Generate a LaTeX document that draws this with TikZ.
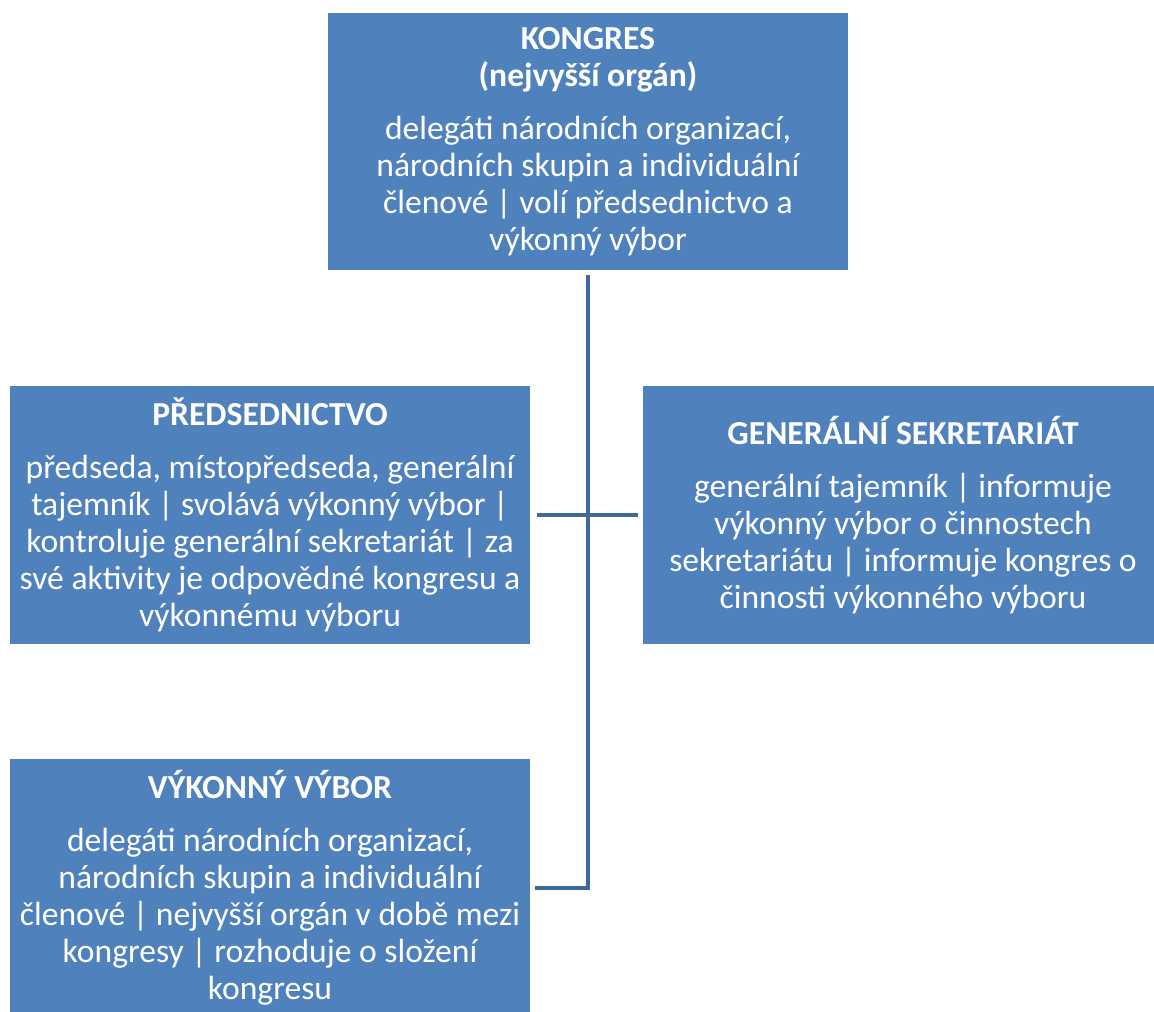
\documentclass[tikz,border=0pt]{standalone}
\usepackage{fontspec}
\setmainfont{Carlito}
\usepackage{xcolor}
\definecolor{boxblue}{HTML}{4F81BD}
\definecolor{lineblue}{HTML}{3E6A9A}
\tikzset{
  orgbox/.style={draw=none, fill=boxblue, text=white, align=center, inner sep=0pt,
    minimum width=390pt, minimum height=192.75pt,
    font=\fontsize{25.2}{27.75}\selectfont},
  orgline/.style={draw=lineblue, line width=3pt}
}
\newcommand{\boxtitle}[1]{{\bfseries #1}\\[12pt]}
\begin{document}
\begin{tikzpicture}[x=0.75pt,y=0.75pt,yscale=-1,xscale=1]
    \useasboundingbox (0,0) rectangle (1154,1012);
    
    %Shape: Rectangle [id:kongres] 
    \node [orgbox] (kongres) at (588,141.5) {{\bfseries KONGRES}\\ \boxtitle{(nejvyšší orgán)}delegáti národních organizací,\\národních skupin a individuální\\členové | volí předsednictvo a\\výkonný výbor};
    %Shape: Rectangle [id:predsednictvo] 
    \node [orgbox] (predsednictvo) at (270,515) {\boxtitle{PŘEDSEDNICTVO}předseda, místopředseda, generální\\tajemník | svolává výkonný výbor |\\kontroluje generální sekretariát | za\\své aktivity je odpovědné kongresu a\\výkonnému výboru};
    %Shape: Rectangle [id:sekretariat] 
    \node [orgbox] (sekretariat) at (903,515) {\boxtitle{GENERÁLNÍ SEKRETARIÁT}generální tajemník | informuje\\výkonný výbor o činnostech\\sekretariátu | informuje kongres o\\činnosti výkonného výboru};
    %Shape: Rectangle [id:vybor] 
    \node [orgbox] (vybor) at (270,887.5) {\boxtitle{VÝKONNÝ VÝBOR}delegáti národních organizací,\\národních skupin a individuální\\členové | nejvyšší orgán v době mezi\\kongresy | rozhoduje o složení\\kongresu};
    
    %Straight Lines [id:trunk] 
    \draw [orgline, shorten <=3.75pt, shorten >=3.75pt] (kongres.south) |- (vybor.east);
    %Straight Lines [id:branch] 
    \draw [orgline, shorten <=5pt, shorten >=3.75pt] (predsednictvo.east) -- (sekretariat.west);
    
\end{tikzpicture}
\end{document}
